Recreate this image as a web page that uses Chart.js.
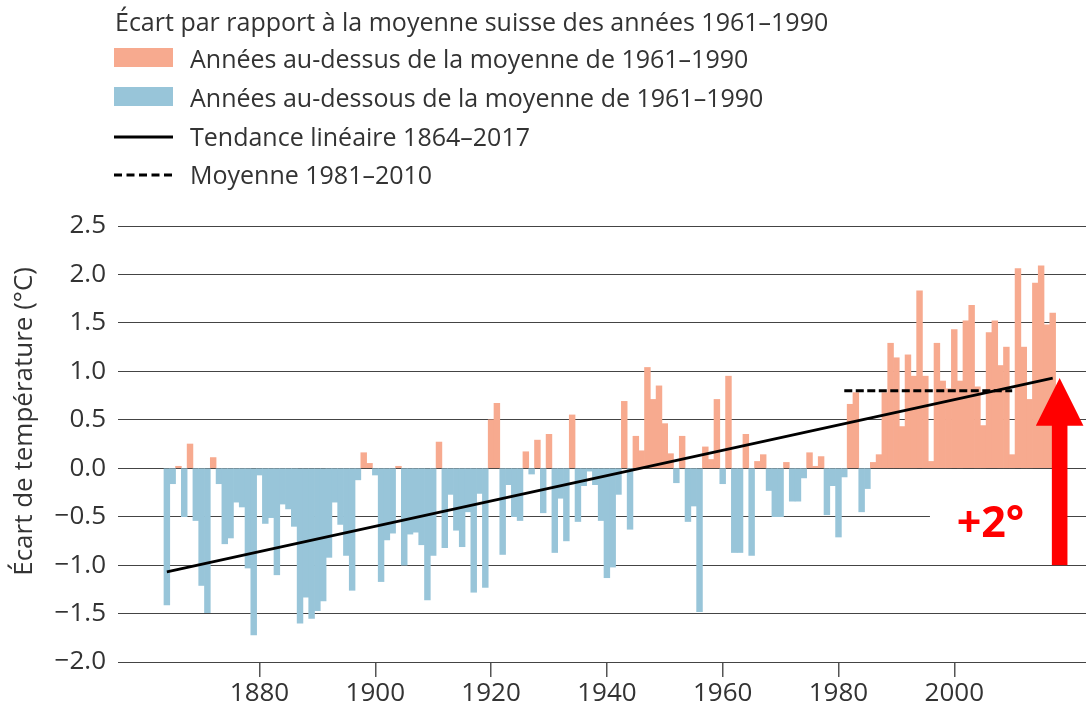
<!DOCTYPE html>
<html>
<head>
<meta charset="utf-8">
<script src="https://cdn.jsdelivr.net/npm/chart.js@4/dist/chart.umd.min.js"></script>
<style>
  html, body { margin: 0; padding: 0; background: #ffffff; }
  #c { display: block; }
</style>
</head>
<body>
<canvas id="c" width="1086" height="709"></canvas>
<script>
// ---- Data ----
const firstYear = 1864;
const anomalies = [
  -1.41, -0.16, 0.02, -0.50, 0.25, -0.54, -1.21, -1.49, 0.11, -0.16,   // 1864-1873
  -0.78, -0.72, -0.35, -0.40, -1.03, -1.72, -0.07, -0.57, -0.51, -1.10, // 1874-1883
  -0.37, -0.42, -0.60, -1.60, -1.33, -1.55, -1.47, -1.37, -0.92, -0.35, // 1884-1893
  -0.58, -0.90, -1.26, -0.12, 0.16, 0.05, -0.07, -1.17, -0.74, -0.67,   // 1894-1903
  0.02, -1.00, -0.68, -0.66, -0.79, -1.36, -0.90, 0.27, -0.82, -0.27,   // 1904-1913
  -0.64, -0.81, -0.45, -1.28, -0.26, -1.23, 0.50, 0.67, -0.89, -0.17,   // 1914-1923
  -0.50, -0.54, 0.17, -0.06, 0.29, -0.46, 0.35, -0.87, -0.31, -0.75,    // 1924-1933
  0.55, -0.55, -0.18, -0.03, -0.17, -0.54, -1.13, -1.02, -0.27, 0.69,   // 1934-1943
  -0.63, 0.33, 0.18, 1.04, 0.71, 0.85, 0.46, 0.15, -0.15, 0.33,         // 1944-1953
  -0.55, -0.39, -1.48, 0.22, 0.09, 0.71, -0.16, 0.95, -0.87, -0.87,     // 1954-1963
  0.35, -0.90, 0.07, 0.14, -0.23, -0.50, -0.50, 0.06, -0.34, -0.34,     // 1964-1973
  -0.10, 0.16, 0.02, 0.12, -0.48, -0.18, -0.71, -0.09, 0.66, 0.78,      // 1974-1983
  -0.45, -0.21, 0.06, 0.14, 0.78, 1.29, 1.14, 0.43, 1.17, 0.95,         // 1984-1993
  1.83, 0.95, 0.07, 1.29, 0.90, 0.82, 1.43, 0.90, 1.52, 1.68,           // 1994-2003
  0.84, 0.44, 1.40, 1.52, 1.06, 1.25, 0.14, 2.06, 1.25, 0.71,           // 2004-2013
  1.91, 2.09, 1.48, 1.60                                                 // 2014-2017
];
const years = anomalies.map((_, i) => firstYear + i);

const trendYears = [1864, 2017];
const trendValues = [-1.07, 0.93];
const meanYears = [1981, 2010];
const meanValues = [0.80, 0.80];

const xTickYears = [1880, 1900, 1920, 1940, 1960, 1980, 2000];
const yTickValues = [-2.0, -1.5, -1.0, -0.5, 0.0, 0.5, 1.0, 1.5, 2.0, 2.5];

const legendTitle = 'Écart par rapport à la moyenne suisse des années 1961–1990';
const legendLabels = [
  'Années au-dessus de la moyenne de 1961–1990',
  'Années au-dessous de la moyenne de 1961–1990',
  'Tendance linéaire 1864–2017',
  'Moyenne 1981–2010'
];
const yTitle = 'Écart de température (°C)';

// arrow annotation (data units)
const arrowYear = 2018.2;
const arrowFromTo = [-1.0, 0.93];
const noteText = '+2°';
const noteYear = 2006.25;
const noteValue = -0.71;
const noteBoxYears = [1995.8, 2016.9];
const noteBoxValues = [-0.04, -0.95];

// ---- Styles ----
const FONT = "'Open Sans', 'DejaVu Sans', sans-serif";
const ORANGE = '#f7aa8f';
const BLUE = '#98c5d9';
const TEXT = '#333333';

const annotationPlugin = {
  id: 'annotations',
  beforeDatasetsDraw(chart) {
    const { ctx, scales: { x, y } } = chart;
    ctx.save();
    ctx.fillStyle = '#ffffff';
    const x1 = x.getPixelForValue(noteBoxYears[0]);
    const x2 = x.getPixelForValue(noteBoxYears[1]);
    const y1 = y.getPixelForValue(noteBoxValues[0]);
    const y2 = y.getPixelForValue(noteBoxValues[1]);
    ctx.fillRect(x1, y1, x2 - x1, y2 - y1);
    ctx.restore();
  },
  afterDraw(chart) {
    const { ctx, scales: { x, y } } = chart;
    ctx.save();
    // arrow
    const ax = x.getPixelForValue(arrowYear);
    const yBottom = y.getPixelForValue(arrowFromTo[0]);
    const yTip = y.getPixelForValue(arrowFromTo[1]);
    const shaftW = 15.6, headW = 47.6, headH = 47.7;
    ctx.fillStyle = '#ff0000';
    ctx.fillRect(ax - shaftW / 2, yTip + headH - 1, shaftW, yBottom - (yTip + headH - 1));
    ctx.beginPath();
    ctx.moveTo(ax, yTip);
    ctx.lineTo(ax + headW / 2, yTip + headH);
    ctx.lineTo(ax - headW / 2, yTip + headH);
    ctx.closePath();
    ctx.fill();
    // +2° note
    ctx.font = "bold 43px " + FONT;
    ctx.textAlign = 'center';
    ctx.textBaseline = 'alphabetic';
    ctx.fillText(noteText, x.getPixelForValue(noteYear), y.getPixelForValue(noteValue));

    // y axis title
    ctx.fillStyle = TEXT;
    ctx.font = "26px " + FONT;
    ctx.save();
    ctx.translate(32, 267);
    ctx.rotate(-Math.PI / 2);
    ctx.textAlign = 'right';
    ctx.textBaseline = 'alphabetic';
    ctx.fillText(yTitle, 0, 0);
    ctx.restore();

    // legend
    ctx.font = "25px " + FONT;
    const lx = 114, tx = 190, baselines = [68, 107, 146, 184];
    ctx.textAlign = 'left';
    ctx.textBaseline = 'alphabetic';
    ctx.fillStyle = TEXT;
    ctx.fillText(legendTitle, 115, 31);
    legendLabels.forEach((lab, i) => {
      const b = baselines[i];
      if (i === 0 || i === 1) {
        ctx.fillStyle = i === 0 ? ORANGE : BLUE;
        ctx.fillRect(lx, b - 20, 59, 19);
      } else {
        ctx.strokeStyle = '#000000';
        ctx.lineWidth = 3;
        ctx.setLineDash(i === 3 ? [8, 4.5] : []);
        ctx.beginPath();
        ctx.moveTo(lx, b - 9);
        ctx.lineTo(lx + 59, b - 9);
        ctx.stroke();
        ctx.setLineDash([]);
      }
      ctx.fillStyle = TEXT;
      ctx.fillText(lab, tx, b);
    });
    ctx.restore();
  }
};

new Chart(document.getElementById('c'), {
  data: {
    datasets: [
      {
        type: 'line',
        label: legendLabels[2],
        data: trendYears.map((yr, i) => ({ x: yr, y: trendValues[i] })),
        borderColor: '#000000',
        borderWidth: 2.6,
        pointRadius: 0,
        tension: 0,
        order: 1
      },
      {
        type: 'line',
        label: legendLabels[3],
        data: meanYears.map((yr, i) => ({ x: yr, y: meanValues[i] })),
        borderColor: '#000000',
        borderWidth: 3,
        borderDash: [8, 3.5],
        pointRadius: 0,
        tension: 0,
        order: 1
      },
      {
        type: 'bar',
        label: 'Écart',
        data: years.map((yr, i) => ({ x: yr, y: anomalies[i] })),
        backgroundColor: anomalies.map(v => v >= 0 ? ORANGE : BLUE),
        borderWidth: 0,
        barPercentage: 1.0,
        categoryPercentage: 1.0,
        order: 2
      }
    ]
  },
  options: {
    responsive: false,
    animation: false,
    events: [],
    layout: { padding: { top: 226, left: 0, right: 0, bottom: 0 } },
    plugins: {
      legend: { display: false },
      tooltip: { enabled: false }
    },
    scales: {
      x: {
        type: 'linear',
        offset: false,
        min: 1855.56,
        max: 2022.75,
        afterBuildTicks: s => { s.ticks = xTickYears.map(v => ({ value: v })); },
        afterFit: s => { s.height = 47; },
        grid: { offset: false, drawOnChartArea: false, drawTicks: true, tickLength: 15, color: '#555555', lineWidth: 1.5 },
        border: { display: false },
        ticks: {
          color: TEXT,
          font: { family: FONT, size: 26 },
          padding: 1,
          maxRotation: 0,
          callback: v => String(v)
        }
      },
      y: {
        min: -2.0,
        max: 2.5,
        afterBuildTicks: s => { s.ticks = yTickValues.map(v => ({ value: v })); },
        afterFit: s => { s.width = 118; },
        grid: { drawTicks: false, color: '#444444', lineWidth: 1 },
        border: { display: false },
        ticks: {
          color: TEXT,
          font: { family: FONT, size: 26 },
          padding: 12,
          callback: v => (v < 0 ? '−' : '') + Math.abs(v).toFixed(1)
        }
      }
    }
  },
  plugins: [annotationPlugin]
});
</script>
</body>
</html>
